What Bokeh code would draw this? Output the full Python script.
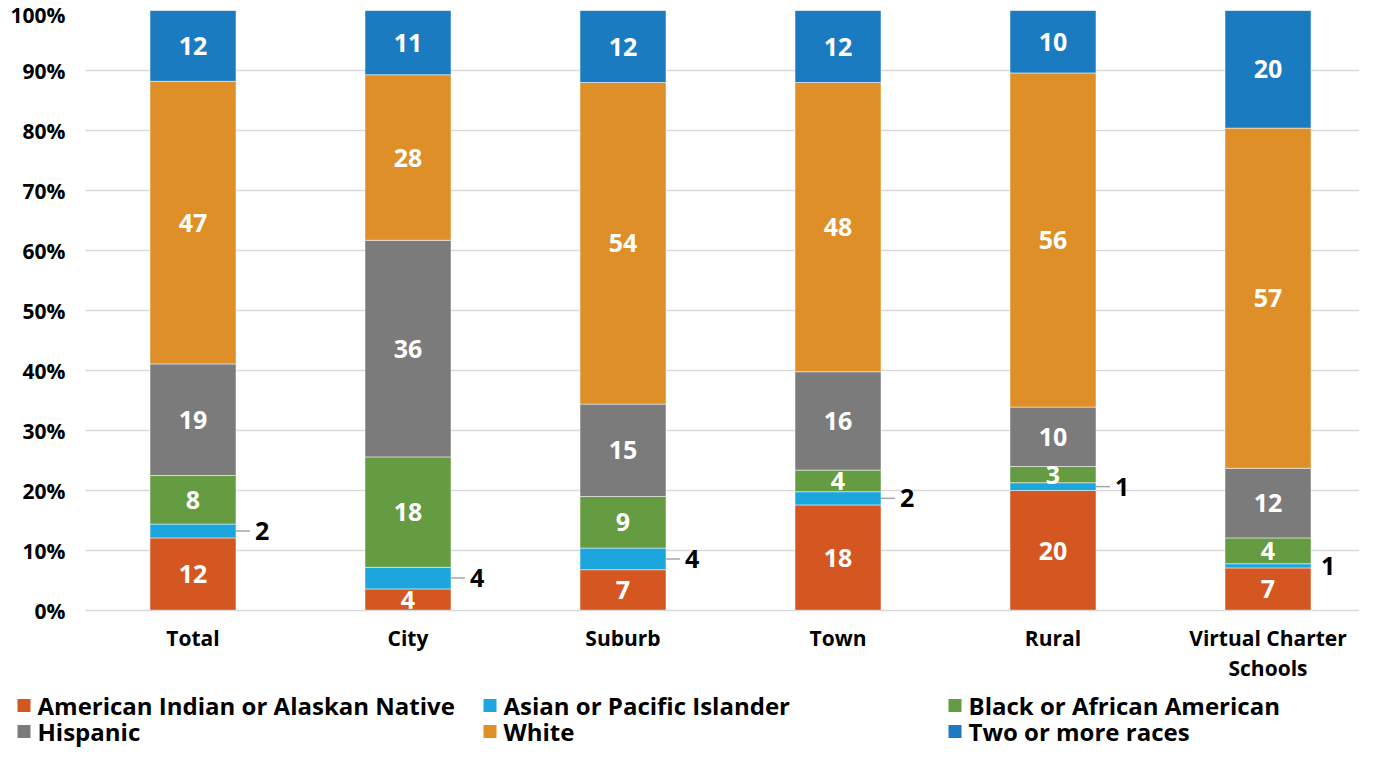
from bokeh.plotting import figure
from bokeh.layouts import column, row
from bokeh.models import ColumnDataSource, FixedTicker, Range1d
from bokeh.core.properties import value
from bokeh.embed import file_html
from bokeh.resources import INLINE

categories = ["Total", "City", "Suburb", "Town", "Rural", "Virtual Charter\nSchools"]
series = ["American Indian or Alaskan Native", "Asian or Pacific Islander",
          "Black or African American", "Hispanic", "White", "Two or more races"]
american_indian = [12.1, 3.6, 6.8, 17.6, 20.0, 7.1]
asian_pacific = [2.3, 3.6, 3.6, 2.2, 1.3, 0.7]
black = [8.1, 18.4, 8.6, 3.6, 2.7, 4.3]
hispanic = [18.6, 36.1, 15.4, 16.4, 9.9, 11.6]
white = [47.1, 27.6, 53.6, 48.2, 55.7, 56.7]
two_or_more = [11.8, 10.7, 12.0, 12.0, 10.4, 19.6]
y_ticks = [0, 10, 20, 30, 40, 50, 60, 70, 80, 90, 100]
leader_line = [True, True, True, True, True, False]

colors = ["#D45620", "#1DA6DE", "#659B41", "#7B7B7B", "#DE8F28", "#1B7BC1"]
FONT = "Open Sans"
BAR_W = 0.4
W = 1359
TOP = 10
FRAME_H = 600
MAIN_H = 682
LEG_H = 64
FRAME_L = 85
CAT_PX = 215

all_vals = [american_indian, asian_pacific, black, hispanic, white, two_or_more]
keys = ["ai", "asian", "black", "hisp", "white", "two"]
xs = list(range(len(categories)))
data = {"x": xs}
for k, v in zip(keys, all_vals):
    data[k] = v
source = ColumnDataSource(data)

frame_w = W - FRAME_L
x0 = -0.5
p = figure(width=W, height=MAIN_H, output_backend="svg", toolbar_location=None,
           x_range=Range1d(x0, x0 + frame_w / CAT_PX), y_range=Range1d(0, 100),
           frame_width=frame_w, frame_height=FRAME_H,
           min_border_left=FRAME_L, min_border_right=0, min_border_top=TOP,
           min_border_bottom=MAIN_H - TOP - FRAME_H)
p.outline_line_color = None

renderers = p.vbar_stack(keys, x="x", width=BAR_W, color=colors, source=source,
                         line_color="white", line_width=0.5)

inside_x, inside_y, inside_t = [], [], []
out_x, out_y, out_t, out_off = [], [], [], []
seg_x0, seg_x1, seg_y = [], [], []
for i in range(len(categories)):
    base = 0.0
    for s, vals in enumerate(all_vals):
        v = vals[i]
        mid = base + v / 2
        label = str(round(v))
        if s == 1:
            out_x.append(i + BAR_W / 2)
            out_y.append(mid)
            out_t.append(label)
            out_off.append(19 if leader_line[i] else 10)
            if leader_line[i]:
                seg_x0.append(i + BAR_W / 2)
                seg_x1.append(i + BAR_W / 2 + 14 / CAT_PX)
                seg_y.append(mid)
        else:
            inside_x.append(i)
            inside_y.append(mid)
            inside_t.append(label)
        base += v

p.text(x=inside_x, y=inside_y, text=inside_t, text_color="white", text_align="center",
       text_baseline="middle", text_font=value(FONT), text_font_style="bold",
       text_font_size="25px")
p.segment(x0=seg_x0, y0=seg_y, x1=seg_x1, y1=seg_y, line_color="#A6A6A6", line_width=1.5)
p.text(x=out_x, y=out_y, text=out_t, text_color="black", text_align="left",
       text_baseline="middle", text_font=value(FONT), text_font_style="bold",
       text_font_size="25px", x_offset=out_off)

p.xgrid.grid_line_color = None
p.ygrid.grid_line_color = "#D9D9D9"
p.ygrid.grid_line_width = 1.3
p.yaxis.ticker = FixedTicker(ticks=y_ticks)
p.yaxis.major_label_overrides = {t: f"{t}%" for t in y_ticks}
p.xaxis.ticker = FixedTicker(ticks=xs)
p.xaxis.major_label_overrides = {i: c for i, c in enumerate(categories)}
for ax in (p.xaxis[0], p.yaxis[0]):
    ax.major_tick_line_color = None
    ax.minor_tick_line_color = None
    ax.major_label_text_font = FONT
    ax.major_label_text_font_style = "bold"
    ax.major_label_text_font_size = "21px"
    ax.major_label_text_color = "black"
    ax.major_label_text_line_height = 1.1
p.yaxis.axis_line_color = None
p.yaxis.major_label_standoff = 14
p.xaxis.axis_line_color = "#D9D9D9"
p.xaxis.axis_line_width = 1.3
p.xaxis.major_label_standoff = 7

# legend as its own strip below the chart (own figure, screen-like coordinates)
leg = figure(width=W, height=LEG_H, output_backend="svg", toolbar_location=None,
             x_range=Range1d(0, W), y_range=Range1d(LEG_H, 0),
             x_axis_type=None, y_axis_type=None, frame_width=W, frame_height=LEG_H,
             min_border_left=0, min_border_right=0, min_border_top=0, min_border_bottom=0)
leg.outline_line_color = None
leg.xgrid.grid_line_color = None
leg.ygrid.grid_line_color = None
col_left = [17, 483, 948]
row_mid = [20, 46]
sw_x, sw_y, tx_x = [], [], []
for k in range(len(series)):
    r, c = divmod(k, 3)
    sw_x.append(col_left[c] + 6.5)
    sw_y.append(row_mid[r])
    tx_x.append(col_left[c] + 20)
leg.scatter(x=sw_x, y=sw_y, marker="square", size=13, fill_color=colors, line_color=None)
leg.text(x=tx_x, y=sw_y, text=series, text_color="black", text_align="left",
         text_baseline="middle", text_font=value(FONT), text_font_style="bold",
         text_font_size="24px")

layout = column(p, row(leg, spacing=0), spacing=0)
open("out.html", "w").write(file_html(layout, INLINE))
